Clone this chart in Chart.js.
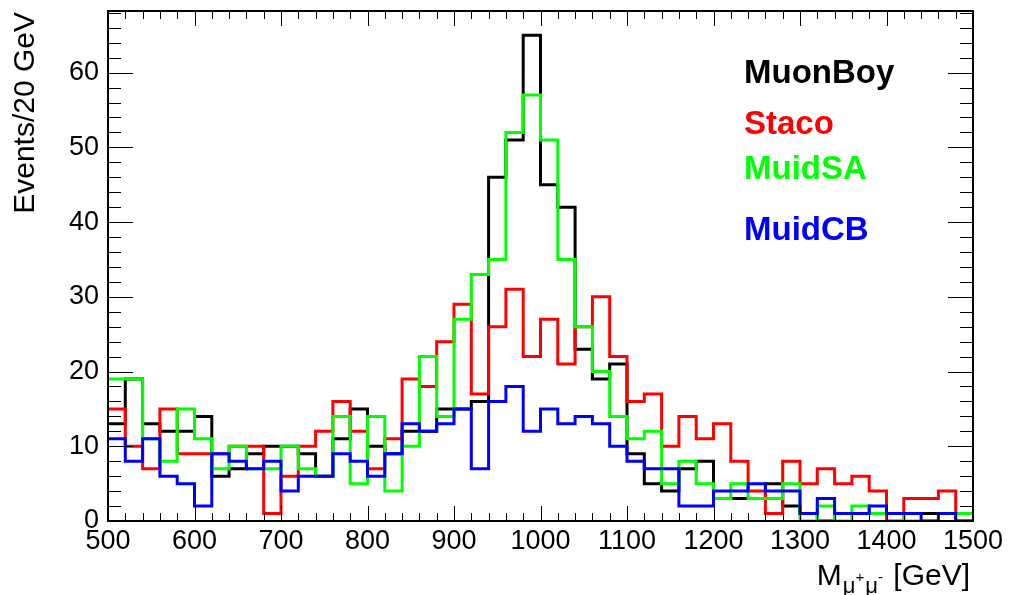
<!DOCTYPE html>
<html>
<head>
<meta charset="utf-8">
<script src="https://cdn.jsdelivr.net/npm/chart.js@4.4.1/dist/chart.umd.min.js"></script>
<style>
html,body{margin:0;padding:0;background:#ffffff;}
#wrap{width:1014px;height:595px;position:relative;}
</style>
</head>
<body>
<div id="wrap"><canvas id="c" width="1014" height="595"></canvas></div>
<script>
// ---- data (bin low edges in GeV, 20 GeV bins) ----
const binLowEdges = [500,520,540,560,580,600,620,640,660,680,700,720,740,760,780,800,820,840,860,880,900,920,940,960,980,1000,1020,1040,1060,1080,1100,1120,1140,1160,1180,1200,1220,1240,1260,1280,1300,1320,1340,1360,1380,1400,1420,1440,1460,1480];
const upperEdge = 1500;
const muonBoy = [13,19,13,12,12,14,6,7,9,10,10,9,6,11,15,10,9,12,12,15,15,16,46,51,65,45,42,23,19,21,9,5,4,7,8,3,3,3,5,2,1,0,1,1,1,1,1,1,1,1];
const staco   = [15,10,7,15,9,9,9,10,10,1,6,10,12,16,12,7,11,19,18,24,29,17,26,31,22,27,21,26,30,22,16,17,10,14,11,13,8,4,1,8,5,7,5,6,4,0,3,3,4,0];
const muidSA  = [19,19,11,8,15,11,7,10,7,7,10,7,6,14,5,14,4,10,22,14,27,33,35,52,57,51,35,26,20,14,11,12,5,8,5,3,5,3,3,5,0,2,0,2,1,1,0,0,1,1];
const muidCB  = [11,8,11,6,5,2,9,8,7,8,4,6,6,9,8,6,9,13,12,13,15,7,16,18,12,15,13,14,13,10,8,7,7,2,2,4,4,5,4,4,1,3,1,1,2,1,1,0,1,0];
const seriesNames  = ['MuonBoy','Staco','MuidSA','MuidCB'];
const seriesColors = ['#000000','#ff0000','#00ff00','#0000ff'];
const xTickStep = 100, xMinorStep = 20;
const yTickStep = 10, yMinorStep = 2;
const xMin = 500, xMax = 1500, yMin = 0, yMax = 68.25;
const yTitle = 'Events/20 GeV';

const FONT = "'Liberation Sans', Arial, Helvetica, sans-serif";

function toSteps(vals){
  const pts = binLowEdges.map((x,i)=>({x:x, y:vals[i]}));
  pts.push({x:upperEdge, y:vals[vals.length-1]});
  return pts;
}
const allSeries = [muonBoy, staco, muidSA, muidCB];
// draw order: first dataset is drawn last (on top) -> blue on top
const datasets = [3,2,1,0].map(i=>({
  label: seriesNames[i],
  data: toSteps(allSeries[i]),
  borderColor: seriesColors[i],
  backgroundColor: seriesColors[i],
  borderWidth: 3,
  pointRadius: 0,
  stepped: 'before',
  fill: false,
  tension: 0
}));

const rootStyle = {
  id: 'rootStyle',
  afterDraw(chart){
    const ctx = chart.ctx;
    const {left,right,top,bottom} = chart.chartArea;
    const xs = chart.scales.x, ys = chart.scales.y;
    ctx.save();
    ctx.strokeStyle = '#000';
    ctx.lineWidth = 1;
    ctx.beginPath();
    for (let v = xMin; v <= xMax + 1e-9; v += xMinorStep){
      const px = Math.round(xs.getPixelForValue(v)) + 0.5;
      const L = (Math.abs(v % xTickStep) < 1e-9) ? 15 : 8;
      ctx.moveTo(px, bottom); ctx.lineTo(px, bottom - L);
      ctx.moveTo(px, top); ctx.lineTo(px, top + L);
    }
    for (let v = yMin; v <= yMax; v += yMinorStep){
      const py = Math.round(ys.getPixelForValue(v)) + 0.5;
      const L = (Math.abs(v % yTickStep) < 1e-9) ? 25 : 13;
      ctx.moveTo(left, py); ctx.lineTo(left + L, py);
      ctx.moveTo(right, py); ctx.lineTo(right - L, py);
    }
    ctx.stroke();
    ctx.lineWidth = 2;
    ctx.strokeRect(left, top, right-left, bottom-top);

    // y title
    ctx.fillStyle = '#000';
    ctx.font = '30px ' + FONT;
    ctx.save();
    ctx.translate(34, top + 1);
    ctx.rotate(-Math.PI/2);
    ctx.textAlign = 'right';
    ctx.textBaseline = 'alphabetic';
    ctx.fillText(yTitle, 0, 0);
    ctx.restore();

    // x title M_{mu+mu-} [GeV]
    const parts = [
      {t:'M', f:'30px '+FONT, dy:0, gap:1},
      {t:'\u03bc', f:'22px '+FONT, dy:8, gap:0},
      {t:'+', f:'15px '+FONT, dy:-3, gap:1},
      {t:'\u03bc', f:'22px '+FONT, dy:8, gap:0},
      {t:'-', f:'15px '+FONT, dy:-3, gap:2},
      {t:' [GeV]', f:'30px '+FONT, dy:0, gap:0}
    ];
    let total = 0;
    parts.forEach(p=>{ctx.font = p.f; p.w = ctx.measureText(p.t).width + p.gap; total += p.w;});
    let x = 970 - total;
    const base = 585;
    ctx.textAlign = 'left';
    parts.forEach(p=>{ctx.font = p.f; ctx.fillText(p.t, x, base + p.dy); x += p.w;});

    // legend text
    const legendBase = [83,134,179,240];
    ctx.font = 'bold 33px ' + FONT;
    seriesNames.forEach((n,i)=>{
      ctx.fillStyle = seriesColors[i];
      ctx.fillText(n, 744, legendBase[i]);
    });
    ctx.restore();
  }
};

new Chart(document.getElementById('c'), {
  type: 'line',
  data: { datasets: datasets },
  options: {
    responsive: false,
    animation: false,
    events: [],
    layout: { padding: { left: 0, top: 11, right: 41, bottom: 0 } },
    plugins: { legend: { display: false }, tooltip: { enabled: false } },
    scales: {
      x: {
        type: 'linear', min: xMin, max: xMax,
        afterFit(s){ s.height = 74; s.paddingLeft = 0; s.paddingRight = 0; },
        grid: { display: false, drawTicks: false },
        border: { display: false },
        ticks: { stepSize: xTickStep, autoSkip: false, maxRotation: 0, padding: 4,
                 color: '#000', font: { family: FONT, size: 27 },
                 callback: (v)=> String(v) }
      },
      y: {
        type: 'linear', min: yMin, max: yMax,
        afterFit(s){ s.width = 108; s.paddingTop = 0; s.paddingBottom = 0; },
        grid: { display: false, drawTicks: false },
        border: { display: false },
        ticks: { stepSize: yTickStep, includeBounds: false, padding: 9,
                 color: '#000', font: { family: FONT, size: 27 },
                 callback: (v)=> (v % yTickStep === 0 ? String(v) : '') }
      }
    }
  },
  plugins: [rootStyle]
});
</script>
</body>
</html>
